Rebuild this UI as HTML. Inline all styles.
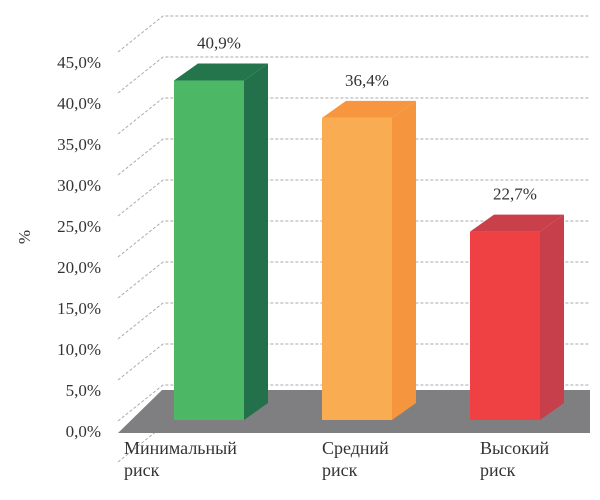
<!DOCTYPE html>
<html><head><meta charset="utf-8"><style>
body{margin:0;background:#fff;width:600px;height:495px;overflow:hidden}
text{font-family:"Liberation Serif",serif;fill:#333}
</style></head><body>
<svg width="600" height="495">
<g id="grid"></g>
<polygon points="118,433 162,390 590,390 590,433" fill="#7f7f81"/>
<g id="axis"></g>
<text x="30" y="237" font-size="17" text-anchor="middle" transform="rotate(-90 30 237)">%</text>
<g id="bars"></g>
<g id="cats"></g>
</svg>
<script>
const categories=[["Минимальный","риск"],["Средний","риск"],["Высокий","риск"]];
const values=[40.9,36.4,22.7];
const valueLabels=["40,9%","36,4%","22,7%"];
const ticks=[0,5,10,15,20,25,30,35,40,45,50];
const tickLabels=["0,0%","5,0%","10,0%","15,0%","20,0%","25,0%","30,0%","35,0%","40,0%","45,0%",""];
const colors=[["#4cb865","#23714a","#24754b"],["#f9ac52","#f5963f","#f7963e"],["#ef4044","#c63f4a","#c9404a"]];
const NS="http://www.w3.org/2000/svg";
function mk(t,a,p){const e=document.createElementNS(NS,t);for(const k in a)e.setAttribute(k,a[k]);p.appendChild(e);return e;}
const gy=v=>426-v*8.2;      // back-plane grid y
const by=v=>420-v*8.3;      // bar front y
const bx=i=>174+i*148;      // bar front left x
const grid=document.getElementById('grid'),axis=document.getElementById('axis');
ticks.forEach((t,i)=>{
  const y=gy(t);
  const l=mk('polyline',{points:`118,${y+36} 163,${y} 590,${y}`,fill:'none',stroke:'#aaa','stroke-width':1,'stroke-dasharray':'3,2'},grid);
  
  
  if(tickLabels[i]){
    const tx=mk('text',{x:101,y:y+11,'font-size':17,'text-anchor':'end'},axis);
    tx.textContent=tickLabels[i];
    
    
  }
});
const bars=document.getElementById('bars'),cats=document.getElementById('cats');
values.forEach((v,i)=>{
  const x=bx(i),w=70,d=24,h=17,top=by(v),base=420;
  const g=mk('g',{},bars);
  
  
  mk('polygon',{points:`${x+w},${base} ${x+w},${top} ${x+w+d},${top-h} ${x+w+d},${base-h}`,fill:colors[i][1]},g);
  mk('polygon',{points:`${x},${top} ${x+d},${top-h} ${x+w+d},${top-h} ${x+w},${top}`,fill:colors[i][2]},g);
  mk('rect',{x:x,y:top,width:w,height:base-top,fill:colors[i][0]},g);
  const t=mk('text',{x:x+w/2+10,y:top-h-15,'font-size':17,'text-anchor':'middle'},bars);
  t.textContent=valueLabels[i];
  
  
  categories[i].forEach((s,j)=>{
    const c=mk('text',{x:[124,322,480][i],y:454+j*22,'font-size':18},cats);
    c.textContent=s;
    
    
  });
});
</script>
</body></html>
